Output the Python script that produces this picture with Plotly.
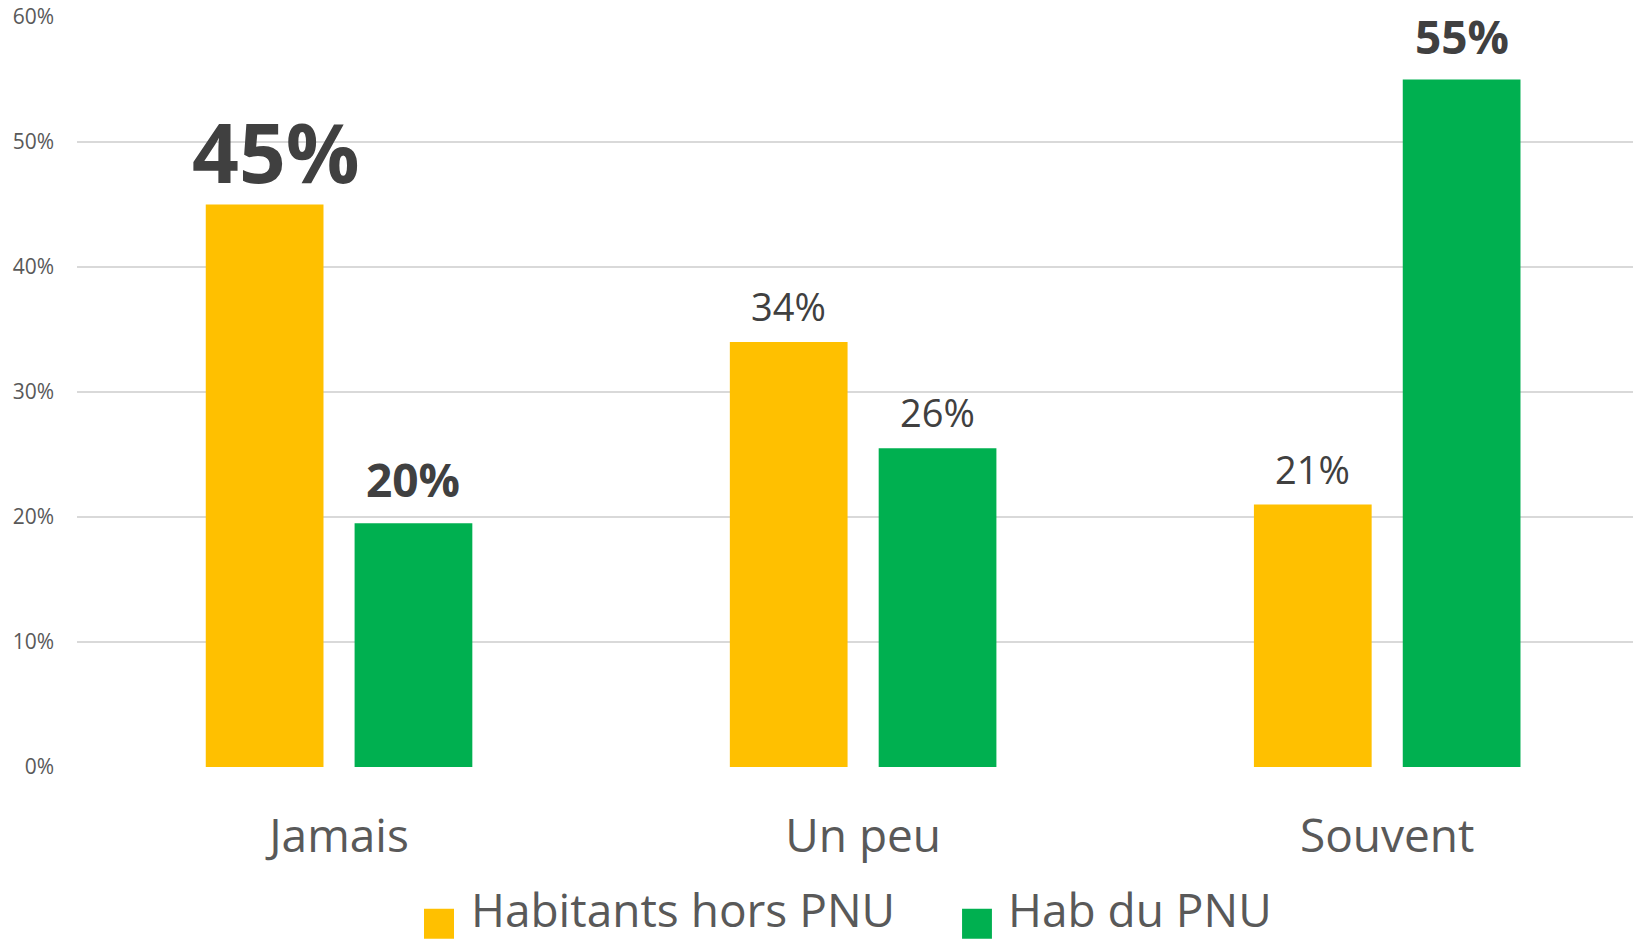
import plotly.graph_objects as go

categories = ["Jamais", "Un peu", "Souvent"]
series_names = ["Habitants hors PNU", "Hab du PNU"]
hors_pnu = [45, 34, 21]
du_pnu = [19.5, 25.5, 55]
y_ticks = [0, 10, 20, 30, 40, 50, 60]
y_tick_labels = [f"{t}%" for t in y_ticks]

colors = ["#FFC000", "#00B050"]
# label styles per series/point
label_sizes = [[82, 38, 38], [46, 38, 46]]
label_bold = [[True, False, False], [True, False, True]]
label_shift = [[-4, 8, 8], [11, 8, 11]]
label_xshift = [[11, 0, 0], [0, 0, 0]]

FONT = "Open Sans"
fig = go.Figure()
series = [hors_pnu, du_pnu]
for name, vals, col in zip(series_names, series, colors):
    fig.add_trace(go.Bar(x=categories, y=vals, name=name, marker_color=col,
                         marker_line_width=0, showlegend=False, hoverinfo="skip"))

offsets = [-0.142, 0.142]
annotations = []
for s, vals in enumerate(series):
    for i, v in enumerate(vals):
        txt = f"{v:.0f}%"
        if label_bold[s][i]:
            txt = f"<b>{txt}</b>"
        annotations.append(dict(
            x=i + offsets[s], y=v, xref="x", yref="y", text=txt, showarrow=False,
            yanchor="bottom", xanchor="center", yshift=label_shift[s][i],
            xshift=label_xshift[s][i],
            font=dict(family=FONT, size=label_sizes[s][i], color="#404040")))

# legend (large square swatches + text)
shapes = []
legend_sq = [(0.223, 0.2423), (0.5688, 0.588)]
legend_tx = [0.2519, 0.597]
for name, col, (x0, x1), tx in zip(series_names, colors, legend_sq, legend_tx):
    shapes.append(dict(type="rect", xref="paper", yref="paper", x0=x0, x1=x1,
                       y0=-0.229, y1=-0.189, fillcolor=col, line_width=0))
    annotations.append(dict(
        x=tx, y=-0.2335, xref="paper", yref="paper", xanchor="left", yanchor="bottom",
        showarrow=False, text=name,
        font=dict(family=FONT, size=46, color="#595959")))

fig.update_layout(
    width=1633, height=943,
    paper_bgcolor="white", plot_bgcolor="white",
    margin=dict(l=77, r=0, t=17, b=176, autoexpand=False),
    barmode="group", bargap=0.432, bargroupgap=0.209,
    font=dict(family=FONT, color="#595959"),
    annotations=annotations, shapes=shapes,
    showlegend=False,
    xaxis=dict(range=[-0.5, 2.469], showgrid=False, zeroline=False, showline=False,
               ticks="", automargin=False,
               tickfont=dict(family=FONT, size=46, color="#595959"),
               ticklabelstandoff=38),
    yaxis=dict(range=[0, 60], tickvals=y_ticks, ticktext=y_tick_labels,
               showgrid=True, gridcolor="#D9D9D9", gridwidth=1.5, zeroline=False,
               showline=False, ticks="", automargin=False,
               tickfont=dict(family=FONT, size=21, color="#595959"),
               ticklabelstandoff=22),
)

fig.write_html("out.html", config={"displayModeBar": False},
               post_script="document.body.style.margin='0';document.body.style.overflow='hidden';")
